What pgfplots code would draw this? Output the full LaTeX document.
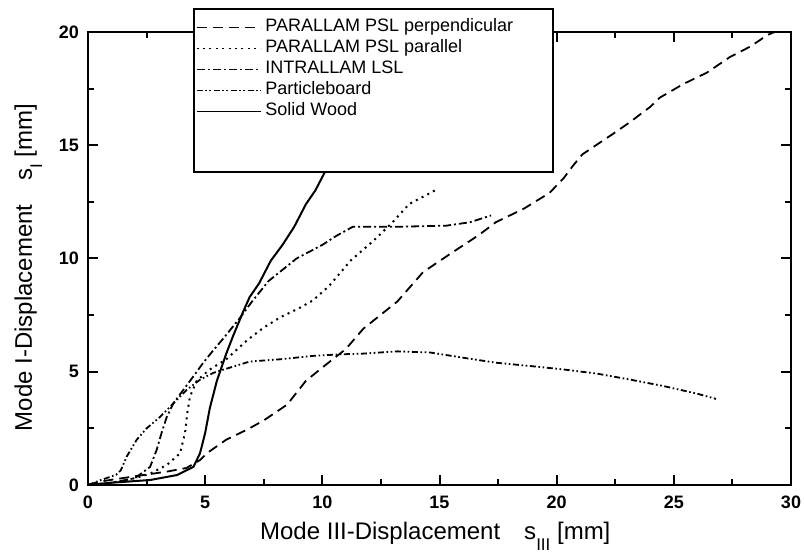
\documentclass[border=0pt]{standalone}
\usepackage{fontspec}
\setmainfont{Liberation Sans}
\usepackage{pgfplots}
\pgfplotsset{compat=1.18}

\begin{document}
\begin{tikzpicture}
\begin{axis}[
 name=ax,
 scale only axis, width=351.5pt, height=226.5pt,
 xmin=0, xmax=30, ymin=0, ymax=20,
 xtick={0,5,...,30}, ytick={0,5,...,20},
 minor x tick num=1, minor y tick num=1,
 tick align=inside,
 major tick length=5pt, minor tick length=3pt,
 every tick/.style={black, line width=1pt},
 axis line style={line width=1.2pt},
 tick label style={font=\fontsize{9}{10}\selectfont\bfseries},
 /pgf/number format/assume math mode=true,
 xticklabel style={yshift=-2pt},
 yticklabel style={xshift=-1pt},
 xlabel={Mode III-Displacement\quad s\raisebox{-0.8ex}{\fontsize{8.5}{8.5}\selectfont III} [mm]},
 ylabel={Mode I-Displacement\quad s\raisebox{-0.8ex}{\fontsize{8.5}{8.5}\selectfont I} [mm]},
 label style={font=\fontsize{12}{14}\selectfont},
 xlabel style={at={(axis description cs:0.494,0)}, anchor=base, yshift=-27.5pt},
 ylabel style={at={(axis description cs:-0.0797,0.48)}, anchor=base},
 legend style={at={(0.149,1.053)}, anchor=north west, draw=black, line width=1pt,
   font=\fontsize{9}{10}\selectfont, inner xsep=1pt, inner ysep=4pt, row sep=0pt,
   nodes={inner ysep=1pt, text height=6.5pt, text depth=2pt}},
 legend cell align=left,
 legend image code/.code={\draw[#1, line width=0.8pt] (0pt,0pt) -- (32pt,0pt);},
]
% PARALLAM PSL perpendicular
\addplot[black, line width=0.9pt, dash pattern=on 5pt off 3pt] coordinates {
(0,0) (0.5,0.15) (1.9,0.37) (3.36,0.59) (4.2,0.75) (4.78,1.1) (5.07,1.4) (5.9,2.0)
(6.8,2.45) (7.5,2.85) (8.5,3.55) (9.3,4.6) (10.2,5.35) (11.0,6.0) (11.75,6.9) (13.2,8.1)
(14.3,9.4) (15.45,10.2) (16.7,11.05) (17.4,11.6) (18.6,12.2) (19.7,12.9) (20.3,13.55)
(20.7,14.1) (21.1,14.6) (22.4,15.5) (23.1,16.0) (24.0,16.7) (24.4,17.1) (25.4,17.7)
(26.4,18.2) (27.4,18.9) (28.25,19.35) (29.0,19.87) (29.3,20.0)
};
\addlegendentry{PARALLAM PSL perpendicular\rule{17pt}{0pt}}
% PARALLAM PSL parallel
\addplot[black, line width=1pt, dash pattern=on 1pt off 2.2pt] coordinates {
(0,0) (1,0.1) (2,0.3) (2.65,0.5) (3.36,0.88) (3.93,1.4) (4.14,2.3) (4.24,3.2) (4.35,3.9)
(4.64,4.6) (5.2,5.1) (5.9,5.55) (6.8,6.4) (7.5,6.95) (8.2,7.4) (9.0,7.8) (9.6,8.15)
(10.3,8.8) (11.2,9.9) (12.2,10.8) (13.0,11.6) (13.7,12.4) (14.8,13.0)
};
\addlegendentry{PARALLAM PSL parallel}
% INTRALLAM LSL
\addplot[black, line width=0.9pt, dash pattern=on 4pt off 1.5pt on 1pt off 1.5pt] coordinates {
(0,0) (1,0.1) (2,0.3) (2.65,0.8) (2.93,1.55) (3.14,2.3) (3.36,3.0) (3.64,3.6) (4.07,4.2)
(4.5,4.8) (4.92,5.4) (5.35,5.95) (5.8,6.5) (6.5,7.4) (7.0,8.1) (7.7,9.0) (8.9,10.0)
(10.0,10.6) (10.6,11.0) (11.3,11.4) (13.2,11.4) (15.3,11.45) (16.3,11.6) (17.2,11.9)
};
\addlegendentry{INTRALLAM LSL}
% Particleboard
\addplot[black, line width=0.9pt, dash pattern=on 3pt off 1.3pt on 0.8pt off 1.3pt on 0.8pt off 1.3pt] coordinates {
(0,0) (0.5,0.2) (1.2,0.45) (1.4,0.65) (1.65,1.25) (2.08,2.0) (2.5,2.5) (3.07,3.0)
(3.64,3.6) (4.21,4.2) (4.78,4.65) (5.35,4.95) (5.8,5.1) (6.9,5.45) (8.2,5.55) (9.6,5.7)
(10.8,5.77) (11.75,5.8) (13.2,5.9) (14.6,5.85) (16.0,5.62) (17.4,5.4) (18.9,5.25)
(20.3,5.1) (21.7,4.92) (23.1,4.66) (24.55,4.37) (26.0,4.03) (26.8,3.8)
};
\addlegendentry{Particleboard}
% Solid Wood
\addplot[black, line width=1pt] coordinates {
(0,0) (1,0.1) (2.65,0.22) (3.8,0.44) (4.5,0.8) (4.78,1.4) (5.0,2.3) (5.2,3.4) (5.5,4.6)
(5.9,5.8) (6.2,6.6) (6.6,7.6) (6.9,8.3) (7.3,8.9) (7.8,9.9) (8.3,10.6) (8.8,11.4)
(9.3,12.4) (9.7,13.0) (10.0,13.6) (10.3,14.2) (10.6,15.0)
};
\addlegendentry{Solid Wood}
\addlegendimage{empty legend}\addlegendentry{}
\addlegendimage{empty legend}\addlegendentry{}
\end{axis}
\pgfresetboundingbox
\path ([xshift=-44pt,yshift=-37.5pt]ax.south west) rectangle ([xshift=6.5pt,yshift=16pt]ax.north east);
\end{tikzpicture}
\end{document}
